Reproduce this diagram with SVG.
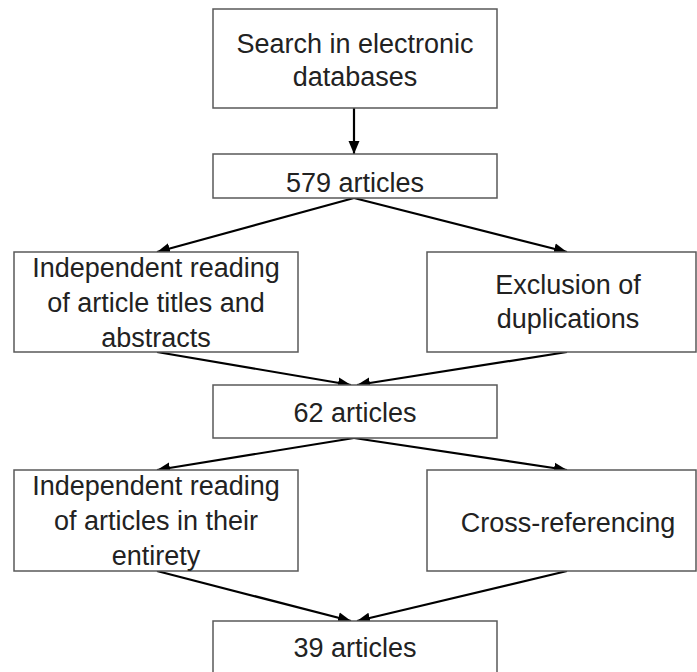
<svg xmlns="http://www.w3.org/2000/svg" width="697" height="672" viewBox="0 0 697 672">
<defs>
<style>
.box{fill:#fff;stroke:#595959;stroke-width:1.5}
.t{font-family:"Liberation Sans",Arial,sans-serif;font-size:27px;fill:#222;text-anchor:middle}
.c{stroke:#000;stroke-width:2.2;fill:none;marker-end:url(#ah)}
</style>
<marker id="ah" markerUnits="userSpaceOnUse" markerWidth="14" markerHeight="14" viewBox="0 0 14 14" refX="13" refY="7" orient="auto">
<path d="M0,1.5 L13,7 L0,12.5 Z" fill="#000"/>
</marker>
</defs>
<rect width="697" height="672" fill="#fff"/>
<g id="connectors">
<line class="c" x1="354" y1="108" x2="354" y2="154"/>
<line class="c" x1="354" y1="198" x2="157" y2="252"/>
<line class="c" x1="354" y1="198" x2="567" y2="252"/>
<line class="c" x1="157" y1="352" x2="351" y2="385"/>
<line class="c" x1="567" y1="352" x2="357" y2="385"/>
<line class="c" x1="354" y1="438" x2="157" y2="470"/>
<line class="c" x1="354" y1="438" x2="567" y2="470"/>
<line class="c" x1="157" y1="571" x2="351" y2="621"/>
<line class="c" x1="567" y1="571" x2="357" y2="621"/>
</g>
<g id="search">
<rect class="box" x="213" y="9" width="284" height="99"/>
<text class="t" x="355" y="53">Search in electronic</text>
<text class="t" x="355" y="86">databases</text>
</g>
<g id="n579">
<rect class="box" x="213" y="154" width="284" height="44"/>
<text class="t" x="355" y="192">579 articles</text>
</g>
<g id="indep1">
<rect class="box" x="14" y="252" width="284" height="100"/>
<text class="t" x="156" y="277">Independent reading</text>
<text class="t" x="156" y="312">of article titles and</text>
<text class="t" x="156" y="347">abstracts</text>
</g>
<g id="excl">
<rect class="box" x="427" y="252" width="269" height="100"/>
<text class="t" x="568" y="294">Exclusion of</text>
<text class="t" x="568" y="328">duplications</text>
</g>
<g id="n62">
<rect class="box" x="213" y="385" width="284" height="53"/>
<text class="t" x="355" y="422">62 articles</text>
</g>
<g id="indep2">
<rect class="box" x="14" y="470" width="284" height="101"/>
<text class="t" x="156" y="495">Independent reading</text>
<text class="t" x="156" y="530">of articles in their</text>
<text class="t" x="156" y="565">entirety</text>
</g>
<g id="cross">
<rect class="box" x="427" y="470" width="269" height="101"/>
<text class="t" x="568" y="532">Cross-referencing</text>
</g>
<g id="n39">
<rect class="box" x="213" y="621" width="284" height="70"/>
<text class="t" x="355" y="657">39 articles</text>
</g>
</svg>
